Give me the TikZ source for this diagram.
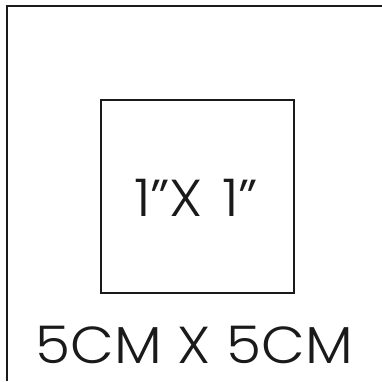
\documentclass[tikz,border=0pt]{standalone}
\usepackage{fontspec}
\setmainfont{Poppins Light}
\definecolor{ink}{HTML}{1A1A1A}
\begin{document}
\begin{tikzpicture}[x=1pt,y=-1pt,
  frame/.style={draw=ink,line width=2pt},
  inner/.style={draw=ink,line width=2pt},
  lbl/.style={text=ink,inner sep=0pt,anchor=base,xscale=1.09,font=\fontsize{52}{52}\selectfont}]
\useasboundingbox (0,0) rectangle (382,381);
\draw[frame] (7,381) -- (7,6) -- (382,6);
\node[inner,minimum width=193pt,minimum height=193pt,inner sep=0pt] (sq) at (197.5,196) {};
\node[lbl] (a) at (196,216.5) {1”X\,\,1”};
\node[lbl] (b) at (194.5,363) {5CM X 5CM};
\end{tikzpicture}
\end{document}
